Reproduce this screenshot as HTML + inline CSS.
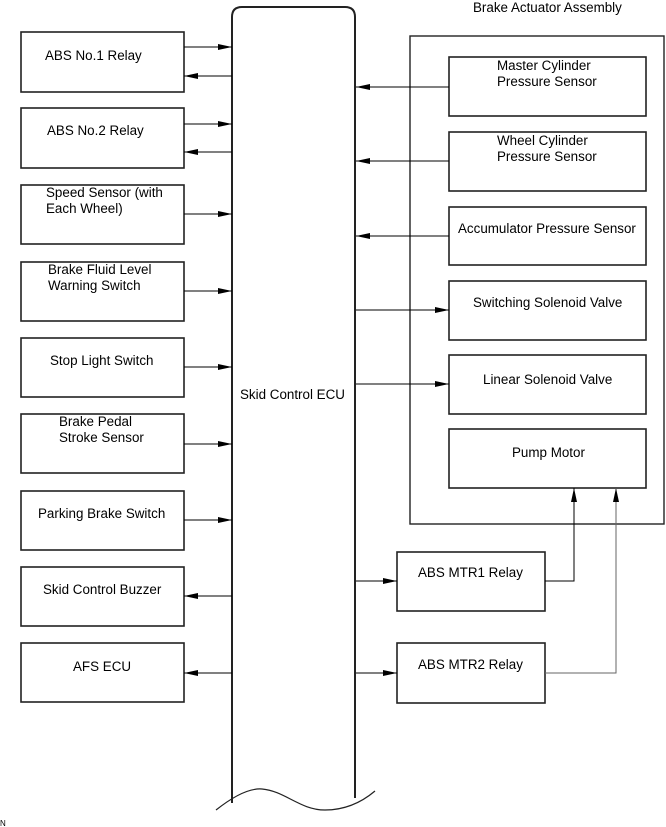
<!DOCTYPE html>
<html><head><meta charset="utf-8"><style>
html,body{margin:0;padding:0;background:#fff;}
svg{display:block;}
text{font-family:"Liberation Sans",Arial,sans-serif;font-size:13.4px;fill:#000;}
</style></head><body>
<svg width="666" height="827" viewBox="0 0 666 827" xmlns="http://www.w3.org/2000/svg">
<defs>
<marker id="a" markerWidth="15" markerHeight="8" refX="14" refY="4" orient="auto" markerUnits="userSpaceOnUse">
<path d="M0,1 L14,4 L0,7 Z" fill="#000"/></marker>
</defs>
<g fill="#fff" stroke="#222" stroke-width="1.6">
<path d="M232,803 L232,17 Q232,7 242,7 L345,7 Q355,7 355,17 L355,798" fill="none" stroke-width="2"/>
<path d="M216,810 C235,795 250,788 262,789 C285,791 300,810 325,810 C345,810 362,802 375,791" fill="none" stroke-width="1.2"/>
<rect x="21" y="32" width="163" height="60"/>
<rect x="21" y="108" width="163" height="60"/>
<rect x="21" y="185" width="163" height="59"/>
<rect x="21" y="262" width="163" height="59"/>
<rect x="21" y="338" width="163" height="59"/>
<rect x="21" y="414" width="163" height="59"/>
<rect x="21" y="491" width="163" height="59"/>
<rect x="21" y="567" width="163" height="59"/>
<rect x="21" y="643" width="163" height="59"/>
<rect x="410" y="36" width="254" height="488" fill="none" stroke-width="1.4"/>
<rect x="449" y="57" width="197" height="59"/>
<rect x="449" y="132" width="197" height="59"/>
<rect x="449" y="207" width="197" height="58"/>
<rect x="449" y="281" width="197" height="59"/>
<rect x="449" y="355" width="197" height="59"/>
<rect x="449" y="429" width="197" height="59"/>
<rect x="397" y="552" width="148" height="59"/>
<rect x="397" y="643" width="148" height="60"/>
</g>
<g stroke="#000" stroke-width="1" fill="none" marker-end="url(#a)">
<line x1="184" y1="47" x2="232" y2="47"/>
<line x1="232" y1="76" x2="184" y2="76"/>
<line x1="184" y1="124" x2="232" y2="124"/>
<line x1="232" y1="152" x2="184" y2="152"/>
<line x1="184" y1="214" x2="232" y2="214"/>
<line x1="184" y1="291" x2="232" y2="291"/>
<line x1="184" y1="367" x2="232" y2="367"/>
<line x1="184" y1="444" x2="232" y2="444"/>
<line x1="184" y1="520" x2="232" y2="520"/>
<line x1="232" y1="596" x2="184" y2="596"/>
<line x1="232" y1="673" x2="184" y2="673"/>
<line x1="449" y1="87" x2="356" y2="87"/>
<line x1="449" y1="161" x2="356" y2="161"/>
<line x1="449" y1="236" x2="356" y2="236"/>
<line x1="356" y1="310" x2="449" y2="310"/>
<line x1="356" y1="384" x2="449" y2="384"/>
<line x1="356" y1="581" x2="397" y2="581"/>
<line x1="356" y1="673" x2="397" y2="673"/>
<polyline points="545,581 574,581 574,488"/>
<polyline points="545,673 616,673 616,488" stroke="#666"/>
</g>
<text x="45" y="60">ABS No.1 Relay</text>
<text x="47" y="135">ABS No.2 Relay</text>
<text x="46" y="197">Speed Sensor (with</text>
<text x="46" y="213">Each Wheel)</text>
<text x="48" y="274">Brake Fluid Level</text>
<text x="48" y="290">Warning Switch</text>
<text x="50" y="365">Stop Light Switch</text>
<text x="59" y="426">Brake Pedal</text>
<text x="59" y="442">Stroke Sensor</text>
<text x="38" y="518">Parking Brake Switch</text>
<text x="43" y="594">Skid Control Buzzer</text>
<text x="73" y="671">AFS ECU</text>
<text x="240" y="399">Skid Control ECU</text>
<text x="473" y="12">Brake Actuator Assembly</text>
<text x="497" y="70">Master Cylinder</text>
<text x="497" y="86">Pressure Sensor</text>
<text x="497" y="145">Wheel Cylinder</text>
<text x="497" y="161">Pressure Sensor</text>
<text x="458" y="233">Accumulator Pressure Sensor</text>
<text x="473" y="307">Switching Solenoid Valve</text>
<text x="483" y="384">Linear Solenoid Valve</text>
<text x="512" y="457">Pump Motor</text>
<text x="418" y="577">ABS MTR1 Relay</text>
<text x="418" y="669">ABS MTR2 Relay</text>
<text x="0" y="826" style="font-size:8px">N</text>
</svg>
</body></html>
